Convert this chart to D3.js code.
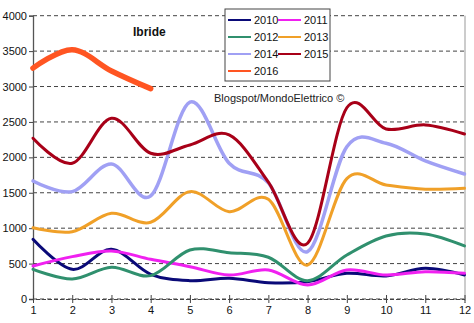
<!DOCTYPE html>
<html><head><meta charset="utf-8">
<script src="https://cdn.jsdelivr.net/npm/d3@7"></script>
<style>body{margin:0;background:#fff;}svg{display:block;font-family:Arial,"Liberation Sans",sans-serif;}</style>
</head><body>
<svg id="c" width="474" height="323"></svg>
<script>
const months = [1,2,3,4,5,6,7,8,9,10,11,12];
const yTicks = [0,500,1000,1500,2000,2500,3000,3500,4000];
const seriesNames = ["2010","2011","2012","2013","2014","2015","2016"];
const s2010 = [843,419,702,349,259,292,230,245,363,325,434,339];
const s2011 = [466,598,678,560,456,339,410,198,410,339,386,363];
const s2012 = [419,282,448,330,692,654,589,259,621,890,918,749];
const s2013 = [1007,950,1210,1083,1516,1233,1408,480,1700,1610,1550,1563];
const s2014 = [1667,1516,1907,1455,2780,1917,1640,668,2150,2200,1950,1765];
const s2015 = [2270,1916,2552,2058,2175,2316,1650,787,2700,2400,2458,2330];
const s2016 = [3260,3520,3220,2970];
const seriesValues = [s2010,s2011,s2012,s2013,s2014,s2015,s2016];
const seriesColors = ["#0a0a78","#f020f0","#30906e","#f0a028","#a0a0f4","#a80018","#ff5522"];
const seriesWidths = [3,3,3,3,3.5,3,5.5];

const svg = d3.select("#c");
const x = d3.scaleLinear().domain([1,12]).range([33,464.5]);
const y = d3.scaleLinear().domain([0,4000]).range([299,15.7]);

// grid
svg.append("g").selectAll("line").data(yTicks).join("line")
  .attr("x1",33).attr("x2",464.5)
  .attr("y1",d=>y(d)).attr("y2",d=>y(d))
  .attr("stroke","#444").attr("stroke-width",1).attr("stroke-dasharray","4,3");

// right border
svg.append("line").attr("x1",465).attr("x2",465).attr("y1",y(4000)).attr("y2",y(0))
  .attr("stroke","#999").attr("stroke-width",1);

// y axis
const yAxis = d3.axisLeft(y).tickValues(yTicks).tickSize(4).tickFormat(d3.format("d"));
const gy = svg.append("g").attr("transform","translate(33,0)").call(yAxis);
gy.select(".domain").attr("stroke","#555").attr("stroke-width",1.3);
gy.selectAll(".tick line").attr("stroke","#444");
gy.selectAll("text").attr("font-size","11px").attr("fill","#111").attr("font-family","Arial, 'Liberation Sans', sans-serif").attr("x",-6);

// x axis
const xAxis = d3.axisBottom(x).tickValues(months).tickSize(4).tickFormat(d3.format("d"));
const gx = svg.append("g").attr("transform","translate(0,299)").call(xAxis);
gx.select(".domain").attr("stroke","#444").attr("stroke-dasharray","4,2");
gx.selectAll(".tick line").attr("stroke","#444").attr("y1",-4);
gx.selectAll("text").attr("font-size","11px").attr("fill","#111").attr("font-family","Arial, 'Liberation Sans', sans-serif").attr("y",7);

// lines
const line = d3.line().x((d,i)=>x(months[i])).y(d=>y(d)).curve(d3.curveCardinal.tension(0));
seriesValues.forEach((vals,k)=>{
  svg.append("path").datum(vals).attr("d",line)
    .attr("fill","none").attr("stroke",seriesColors[k]).attr("stroke-width",seriesWidths[k])
    .attr("stroke-linecap","round").attr("stroke-linejoin","round");
});

// title and credit
svg.append("text").attr("x",133).attr("y",36).attr("font-size","12px").attr("font-weight","bold").attr("fill","#111").text("Ibride");
svg.append("text").attr("x",214).attr("y",102).attr("font-size","11px").attr("fill","#222").text("Blogspot/MondoElettrico ©");

// legend
const lg = svg.append("g");
lg.append("rect").attr("x",225).attr("y",9).attr("width",105).attr("height",72)
  .attr("fill","#fff").attr("stroke","#444").attr("stroke-width",1);
seriesNames.forEach((n,k)=>{
  const col = k%2, row = Math.floor(k/2);
  const lx = 228 + col*50, ly = 20 + row*17;
  lg.append("line").attr("x1",lx).attr("x2",lx+23).attr("y1",ly).attr("y2",ly)
    .attr("stroke",seriesColors[k]).attr("stroke-width",2);
  lg.append("text").attr("x",lx+26).attr("y",ly+4).attr("font-size","11px").attr("fill","#111").text(n);
});
</script>
</body></html>
